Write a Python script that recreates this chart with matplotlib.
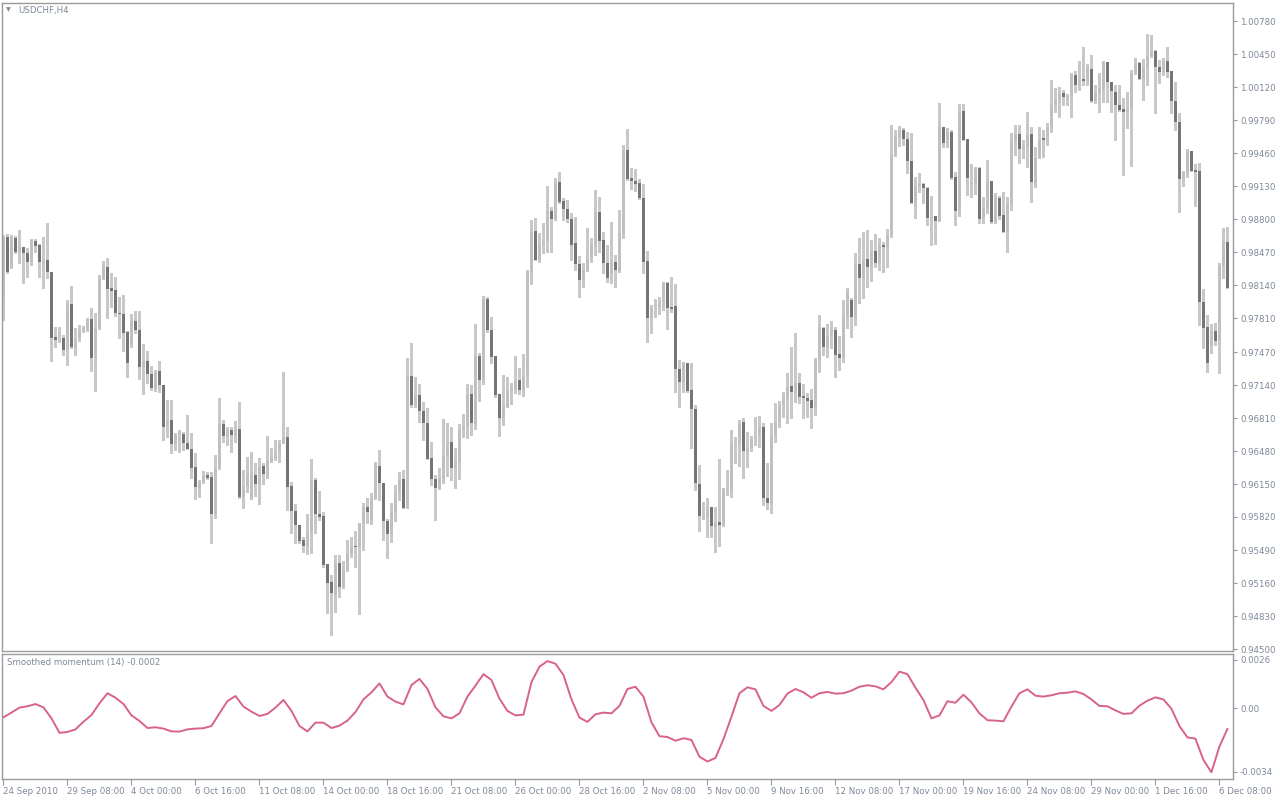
import numpy as np
import matplotlib
matplotlib.use("Agg")
import matplotlib.pyplot as plt

# USDCHF H4 candles, prices in 1e-4 units
opens = [
    9801, 9862, 9831, 9861, 9846, 9852, 9846, 9837, 9858, 9854,
    9836, 9839, 9827, 9762, 9760, 9761, 9749, 9795, 9751, 9761,
    9768, 9769, 9780, 9741, 9771, 9820, 9832, 9811, 9809, 9786,
    9785, 9767, 9754, 9778, 9769, 9732, 9738, 9725, 9710, 9728,
    9714, 9672, 9679, 9655, 9665, 9665, 9656, 9650, 9632, 9611,
    9617, 9624, 9622, 9584, 9631, 9675, 9662, 9669, 9664, 9670,
    9602, 9613, 9600, 9624, 9615, 9633, 9624, 9638, 9641, 9648,
    9656, 9662, 9613, 9588, 9574, 9559, 9552, 9566, 9619, 9585,
    9583, 9535, 9517, 9504, 9536, 9512, 9529, 9545, 9553, 9552,
    9575, 9592, 9580, 9601, 9633, 9616, 9578, 9565, 9586, 9606,
    9620, 9591, 9723, 9693, 9704, 9688, 9676, 9641, 9620, 9611,
    9620, 9642, 9657, 9631, 9637, 9670, 9672, 9705, 9675, 9743,
    9719, 9800, 9769, 9743, 9705, 9681, 9692, 9708, 9710, 9719,
    9708, 9722, 9826, 9868, 9839, 9854, 9858, 9888, 9880, 9917,
    9898, 9890, 9880, 9856, 9835, 9818, 9829, 9841, 9853, 9887,
    9859, 9836, 9825, 9837, 9828, 9865, 9949, 9921, 9918, 9916,
    9901, 9838, 9781, 9793, 9792, 9797, 9816, 9792, 9793, 9730,
    9717, 9736, 9709, 9690, 9615, 9583, 9581, 9592, 9572, 9577,
    9574, 9610, 9608, 9656, 9656, 9677, 9647, 9651, 9660, 9662,
    9672, 9601, 9595, 9663, 9677, 9694, 9700, 9713, 9706, 9716,
    9703, 9701, 9699, 9691, 9739, 9771, 9751, 9763, 9769, 9745,
    9741, 9782, 9799, 9781, 9835, 9821, 9840, 9832, 9848, 9836,
    9854, 9852, 9864, 9944, 9962, 9969, 9960, 9938, 9896, 9913,
    9915, 9911, 9881, 9883, 9878, 9972, 9956, 9967, 9922, 9888,
    9988, 9960, 9915, 9915, 9931, 9880, 9890, 9918, 9877, 9901,
    9884, 9867, 9895, 9958, 9965, 9950, 9952, 9965, 9916, 9941,
    9961, 9958, 9971, 9994, 9999, 10006, 10001, 10003, 10024, 10014,
    10020, 10018, 10030, 9998, 10005, 10010, 10037, 10017, 10007, 9994,
    9990, 9986, 9990, 10026, 10036, 10020, 10030, 10043, 10048, 10032,
    10027, 10038, 10028, 9998, 9977, 9920, 9926, 9948, 9929, 9928,
    9797, 9772, 9753, 9768, 9758, 9833, 9857,
]
highs = [
    9864, 9865, 9864, 9863, 9869, 9852, 9851, 9860, 9860, 9855,
    9862, 9876, 9827, 9772, 9772, 9764, 9799, 9813, 9771, 9774,
    9773, 9781, 9791, 9786, 9824, 9838, 9841, 9826, 9822, 9802,
    9804, 9768, 9785, 9788, 9788, 9755, 9748, 9733, 9729, 9738,
    9714, 9699, 9699, 9666, 9669, 9667, 9684, 9666, 9646, 9619,
    9628, 9627, 9627, 9644, 9701, 9679, 9672, 9672, 9678, 9697,
    9629, 9642, 9647, 9636, 9641, 9636, 9663, 9651, 9659, 9659,
    9727, 9672, 9617, 9595, 9574, 9562, 9585, 9640, 9621, 9608,
    9587, 9535, 9524, 9544, 9544, 9538, 9559, 9562, 9568, 9576,
    9596, 9601, 9606, 9637, 9649, 9616, 9580, 9596, 9614, 9627,
    9629, 9741, 9756, 9722, 9715, 9697, 9691, 9657, 9624, 9631,
    9680, 9676, 9672, 9651, 9675, 9685, 9715, 9714, 9775, 9746,
    9803, 9802, 9782, 9743, 9705, 9724, 9722, 9716, 9743, 9731,
    9745, 9829, 9879, 9881, 9866, 9876, 9913, 9892, 9921, 9927,
    9901, 9899, 9886, 9882, 9843, 9836, 9871, 9861, 9909, 9902,
    9867, 9854, 9877, 9844, 9889, 9954, 9970, 9931, 9930, 9920,
    9915, 9848, 9794, 9800, 9802, 9817, 9817, 9822, 9815, 9739,
    9737, 9736, 9736, 9694, 9634, 9597, 9601, 9592, 9592, 9640,
    9611, 9629, 9669, 9662, 9679, 9681, 9667, 9663, 9682, 9683,
    9676, 9636, 9676, 9696, 9698, 9707, 9726, 9752, 9766, 9726,
    9715, 9706, 9710, 9741, 9784, 9772, 9775, 9778, 9772, 9763,
    9799, 9811, 9801, 9846, 9861, 9867, 9869, 9859, 9865, 9861,
    9857, 9870, 9974, 9969, 9973, 9971, 9967, 9966, 9922, 9926,
    9916, 9912, 9903, 9883, 9996, 9972, 9971, 9969, 9927, 9995,
    9995, 9960, 9935, 9932, 9932, 9902, 9939, 9918, 9906, 9903,
    9907, 9902, 9966, 9974, 9974, 9959, 9987, 9972, 9952, 9972,
    9969, 9976, 10019, 10011, 10012, 10009, 10005, 10026, 10028, 10038,
    10052, 10035, 10044, 10014, 10026, 10038, 10037, 10017, 10014, 10014,
    10001, 10007, 10029, 10041, 10037, 10040, 10065, 10064, 10049, 10039,
    10041, 10052, 10028, 10017, 9986, 9928, 9950, 9948, 9935, 9936,
    9810, 9784, 9775, 9776, 9836, 9871, 9872,
]
lows = [
    9779, 9826, 9831, 9846, 9836, 9816, 9822, 9834, 9847, 9822,
    9811, 9821, 9738, 9752, 9757, 9744, 9734, 9751, 9744, 9758,
    9767, 9768, 9728, 9708, 9770, 9820, 9781, 9792, 9783, 9761,
    9748, 9722, 9752, 9766, 9720, 9705, 9716, 9709, 9708, 9707,
    9659, 9662, 9646, 9649, 9647, 9649, 9650, 9621, 9600, 9602,
    9616, 9620, 9556, 9581, 9630, 9657, 9654, 9647, 9657, 9601,
    9591, 9607, 9600, 9603, 9595, 9615, 9621, 9637, 9639, 9637,
    9656, 9589, 9566, 9556, 9556, 9547, 9545, 9546, 9566, 9579,
    9532, 9486, 9464, 9487, 9502, 9511, 9528, 9542, 9532, 9485,
    9549, 9576, 9575, 9600, 9599, 9559, 9541, 9557, 9578, 9599,
    9591, 9591, 9692, 9692, 9677, 9659, 9640, 9614, 9579, 9610,
    9616, 9623, 9619, 9611, 9620, 9662, 9661, 9664, 9670, 9698,
    9715, 9767, 9736, 9702, 9663, 9674, 9692, 9695, 9706, 9705,
    9703, 9712, 9815, 9839, 9837, 9846, 9847, 9847, 9879, 9896,
    9879, 9877, 9839, 9829, 9802, 9812, 9828, 9837, 9844, 9847,
    9826, 9817, 9816, 9812, 9827, 9861, 9919, 9910, 9908, 9900,
    9826, 9757, 9766, 9782, 9785, 9789, 9770, 9787, 9707, 9692,
    9707, 9707, 9651, 9609, 9568, 9580, 9562, 9562, 9547, 9553,
    9573, 9604, 9602, 9636, 9633, 9621, 9632, 9648, 9654, 9652,
    9594, 9590, 9586, 9657, 9672, 9682, 9676, 9681, 9697, 9696,
    9681, 9682, 9671, 9684, 9727, 9744, 9742, 9751, 9722, 9729,
    9737, 9771, 9762, 9774, 9796, 9801, 9812, 9818, 9832, 9829,
    9827, 9832, 9862, 9943, 9953, 9954, 9926, 9896, 9881, 9907,
    9896, 9874, 9854, 9855, 9878, 9952, 9952, 9920, 9874, 9883,
    9959, 9904, 9902, 9905, 9876, 9876, 9886, 9876, 9876, 9880,
    9867, 9847, 9889, 9944, 9936, 9941, 9932, 9897, 9912, 9941,
    9942, 9954, 9967, 9987, 9982, 9994, 9994, 9982, 10007, 10009,
    10014, 10014, 9997, 9996, 9987, 9997, 9997, 9987, 9959, 9988,
    9924, 9971, 9933, 10025, 10020, 9999, 10014, 10042, 9986, 10016,
    10024, 10022, 9986, 9969, 9887, 9913, 9922, 9928, 9893, 9774,
    9751, 9727, 9746, 9754, 9726, 9821, 9811,
]
closes = [
    9862, 9827, 9862, 9847, 9852, 9846, 9837, 9859, 9853, 9837,
    9838, 9827, 9761, 9759, 9761, 9749, 9794, 9752, 9761, 9769,
    9771, 9780, 9741, 9771, 9820, 9833, 9810, 9808, 9786, 9785,
    9766, 9736, 9778, 9769, 9732, 9737, 9725, 9711, 9727, 9714,
    9672, 9679, 9655, 9664, 9666, 9656, 9650, 9631, 9612, 9617,
    9624, 9621, 9585, 9630, 9675, 9663, 9668, 9664, 9670, 9602,
    9613, 9625, 9624, 9615, 9632, 9625, 9638, 9642, 9648, 9656,
    9662, 9612, 9588, 9574, 9558, 9553, 9566, 9618, 9585, 9582,
    9534, 9516, 9506, 9535, 9512, 9529, 9545, 9552, 9552, 9575,
    9592, 9587, 9601, 9634, 9616, 9578, 9565, 9587, 9606, 9620,
    9591, 9723, 9694, 9704, 9688, 9676, 9640, 9620, 9611, 9621,
    9643, 9657, 9631, 9638, 9670, 9673, 9705, 9676, 9743, 9719,
    9800, 9769, 9742, 9704, 9681, 9693, 9709, 9711, 9718, 9709,
    9722, 9827, 9867, 9839, 9855, 9858, 9888, 9880, 9916, 9897,
    9890, 9880, 9854, 9835, 9819, 9829, 9841, 9854, 9887, 9858,
    9836, 9821, 9836, 9829, 9866, 9949, 9920, 9918, 9915, 9901,
    9837, 9781, 9792, 9794, 9798, 9816, 9791, 9790, 9730, 9717,
    9736, 9708, 9690, 9616, 9583, 9583, 9592, 9573, 9576, 9574,
    9610, 9611, 9656, 9657, 9676, 9648, 9652, 9660, 9662, 9672,
    9601, 9596, 9663, 9677, 9694, 9701, 9712, 9707, 9716, 9702,
    9701, 9698, 9691, 9739, 9771, 9752, 9763, 9769, 9744, 9741,
    9783, 9807, 9782, 9834, 9821, 9840, 9832, 9848, 9836, 9854,
    9852, 9864, 9944, 9963, 9968, 9960, 9938, 9896, 9913, 9915,
    9911, 9881, 9882, 9878, 9972, 9956, 9967, 9921, 9888, 9988,
    9959, 9921, 9915, 9930, 9880, 9891, 9918, 9877, 9901, 9883,
    9867, 9895, 9959, 9965, 9950, 9953, 9964, 9917, 9941, 9960,
    9959, 9972, 9994, 10000, 10005, 10002, 10003, 10024, 10014, 10019,
    10018, 10032, 9998, 10006, 10011, 10037, 10017, 10008, 9994, 9989,
    9987, 9990, 10026, 10036, 10020, 10031, 10043, 10048, 10032, 10027,
    10038, 10027, 9998, 9977, 9920, 9926, 9948, 9928, 9927, 9797,
    9771, 9736, 9768, 9758, 9834, 9857, 9811,
]

# smoothed momentum (14), one reading every 2nd bar, in 1e-4 units
momentum = [
    -4.8, -2.3, 0.4, 1.1, 2.3, 0.5, -5.4, -13.2, -12.7, -11.3,
    -7.2, -3.6, 2.7, 8.1, 5.7, 2.3, -3.8, -6.8, -10.6, -10.2,
    -10.9, -12.4, -12.5, -11.3, -10.9, -10.7, -9.5, -2.7, 3.9, 6.6,
    0.9, -1.8, -4.1, -3.0, 0.4, 4.5, -1.4, -9.5, -12.4, -7.7,
    -7.7, -10.6, -9.3, -6.6, -2.0, 4.8, 8.6, 13.4, 6.3, 3.6,
    2.1, 12.5, 15.8, 10.4, 0.5, -4.3, -5.4, -2.7, 6.3, 12.2,
    18.4, 15.2, 5.2, -1.4, -3.8, -3.4, 14.1, 22.4, 25.4, 24.0,
    17.9, 4.8, -5.0, -7.3, -3.2, -2.3, -2.7, 1.3, 10.4, 11.6,
    6.3, -7.5, -15.0, -15.4, -17.4, -16.1, -17.0, -26.0, -28.6, -26.7,
    -16.6, -4.5, 8.1, 11.3, 10.2, 1.3, -1.4, 1.8, 7.9, 10.4,
    8.6, 5.7, 8.1, 8.8, 7.9, 8.1, 9.5, 11.6, 12.4, 11.8,
    10.2, 14.1, 19.7, 18.4, 11.1, 4.5, -5.4, -3.8, 3.8, 3.0,
    7.3, 3.2, -2.7, -6.4, -6.6, -7.0, 0.9, 8.1, 10.2, 6.8,
    6.3, 7.0, 8.1, 8.4, 9.1, 7.7, 4.8, 1.3, 1.1, -1.1,
    -3.0, -2.7, 1.4, 4.1, 5.9, 4.8, -0.2, -9.5, -15.6, -16.3,
    -27.7, -34.4, -20.6, -11.1,
]

date_labels = [
    "24 Sep 2010", "29 Sep 08:00", "4 Oct 00:00", "6 Oct 16:00",
    "11 Oct 08:00", "14 Oct 00:00", "18 Oct 16:00", "21 Oct 08:00",
    "26 Oct 00:00", "28 Oct 16:00", "2 Nov 08:00", "5 Nov 00:00",
    "9 Nov 16:00", "12 Nov 08:00", "17 Nov 00:00", "19 Nov 16:00",
    "24 Nov 08:00", "29 Nov 00:00", "1 Dec 16:00", "6 Dec 08:00",
]
price_ticks = [
    1.00780, 1.00450, 1.00120, 0.99790, 0.99460, 0.99130, 0.98800,
    0.98470, 0.98140, 0.97810, 0.97470, 0.97140, 0.96810, 0.96480,
    0.96150, 0.95820, 0.95490, 0.95160, 0.94830, 0.94500,
]
mom_ticks = [0.0026, 0.0, -0.0034]
mom_tick_labels = ["0.0026", "0.00", "-0.0034"]

TEXT = "#7d8898"
FRAME = "#9a9a9a"
UP = "#c0c0c0"
DOWN = "#757575"
WICK = "#c8c8c8"
LINE = "#d9628c"
FS = 6.2

o = np.array(opens) / 1e4
h = np.array(highs) / 1e4
l = np.array(lows) / 1e4
c = np.array(closes) / 1e4
x = np.arange(len(o))

W, H = 1280, 800
fig = plt.figure(figsize=(W / 100, H / 100), dpi=100)
fig.patch.set_facecolor("white")

ax = fig.add_axes([2 / W, (H - 651) / H, (1233 - 2) / W, (651 - 3) / H])
ax2 = fig.add_axes([2 / W, (H - 779) / H, (1233 - 2) / W, (779 - 654) / H])

# candles: light grey wicks for all, light body up, dark body down
top = np.maximum(h, np.maximum(o, c))
bot = np.minimum(l, np.minimum(o, c))
ax.vlines(x, bot, top, color=WICK, linewidth=0.9, antialiased=False, zorder=1)
body_lo = np.minimum(o, c)
body_h = np.maximum(np.abs(c - o), 0.00012)
colors = [UP if cc >= oo else DOWN for oo, cc in zip(o, c)]
ax.bar(x, body_h, bottom=body_lo, width=0.86, color=colors,
       linewidth=0, antialiased=False, zorder=2)

ax.set_xlim(-0.375, 307.4)
ax.set_ylim(0.9448, 1.0096)
ax.set_xticks([])
ax.yaxis.tick_right()
ax.set_yticks(price_ticks)
ax.set_yticklabels([f"{v:.5f}" for v in price_ticks])
ax.tick_params(axis="y", direction="out", length=3, width=0.8, color=FRAME,
               labelsize=FS, labelcolor=TEXT, pad=2)

# momentum panel
mx = np.arange(len(momentum)) * 2
ax2.plot(mx, np.array(momentum) / 1e4, color=LINE, linewidth=1.4)
ax2.set_xlim(-0.375, 307.4)
ax2.set_ylim(-0.00380, 0.00292)
ax2.yaxis.tick_right()
ax2.set_yticks(mom_ticks)
ax2.set_yticklabels(mom_tick_labels)
ax2.tick_params(axis="y", direction="out", length=3, width=0.8, color=FRAME,
                labelsize=FS, labelcolor=TEXT, pad=2)
ax2.set_xticks(np.arange(len(date_labels)) * 16)
ax2.set_xticklabels(date_labels, ha="left")
ax2.tick_params(axis="x", direction="out", length=4, width=0.8, color=FRAME,
                labelsize=FS, labelcolor=TEXT, pad=2)

for a in (ax, ax2):
    a.set_facecolor("white")
    for sp in a.spines.values():
        sp.set_color(FRAME)
        sp.set_linewidth(1.0)

fig.text(6 / W, 1 - 10 / H, "\u25bc", fontsize=4.5, color="#8a8a8a",
         ha="left", va="center")
fig.text(18 / W, 1 - 10 / H, "USDCHF,H4", fontsize=FS, color=TEXT,
         ha="left", va="center")
fig.text(7 / W, 1 - 662 / H, "Smoothed momentum (14) -0.0002", fontsize=FS,
         color=TEXT, ha="left", va="center")

fig.savefig("out.png", dpi=100)
